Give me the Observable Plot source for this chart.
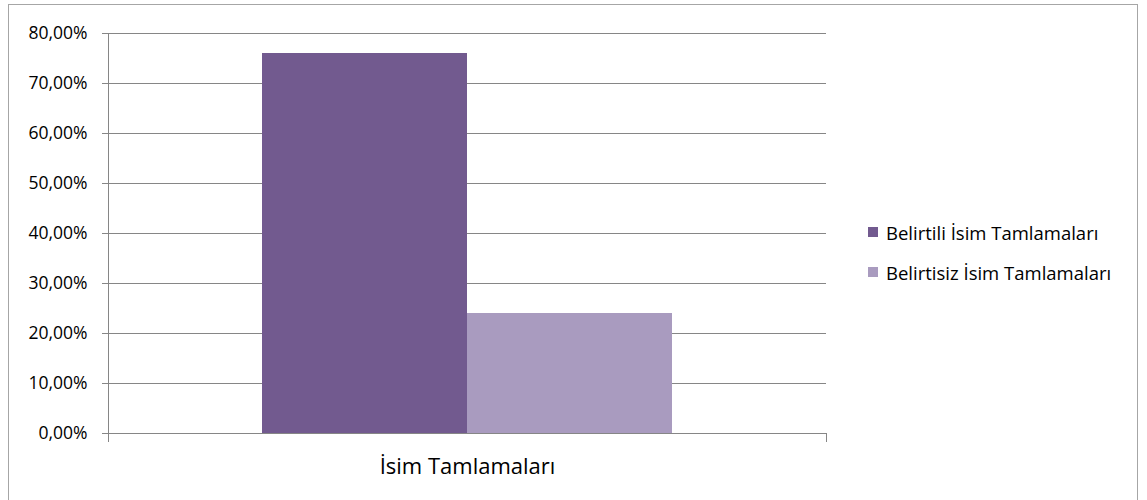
<!DOCTYPE html>
<html><head><meta charset="utf-8">
<script src="https://cdn.jsdelivr.net/npm/d3@7"></script>
<script src="https://cdn.jsdelivr.net/npm/@observablehq/plot@0.6"></script>
<style>
body{margin:0;background:#fff;}
#wrap{position:relative;width:1147px;height:500px;overflow:hidden;font-family:"Open Sans",sans-serif;background:#fff;}
#frame{position:absolute;left:8px;top:4px;width:1130px;height:520px;border:1px solid #a6a6a6;box-sizing:border-box;}
#chart{position:absolute;left:0;top:0;}
#legend{position:absolute;left:868px;top:218px;font-size:18.5px;color:#000;}
.item{display:flex;align-items:center;height:28px;margin-bottom:12px;white-space:nowrap;}
.sw{width:10px;height:10px;margin-right:8px;}
</style>
</head><body>
<div id="wrap"><div id="frame"></div><div id="chart"></div><div id="legend"></div></div>
<script>
const category = ["İsim Tamlamaları"];
const series = ["Belirtili İsim Tamlamaları", "Belirtisiz İsim Tamlamaları"];
const values = [0.76, 0.24];
const colors = ["#725a8f", "#a99bbf"];
const yTicks = [0, 0.1, 0.2, 0.3, 0.4, 0.5, 0.6, 0.7, 0.8];

const data = series.map((s, i) => ({category: category[0], series: s, value: values[i]}));
const fmt = d => d3.format(".2f")(d * 100).replace(".", ",") + "%";

const chart = Plot.plot({
  width: 840,
  height: 500,
  marginLeft: 108,
  marginRight: 14,
  marginTop: 33,
  marginBottom: 67,
  style: {fontFamily: "Open Sans, sans-serif", color: "#000", background: "transparent"},
  fx: {domain: category, padding: 0, label: null},
  x: {domain: series, axis: null, paddingInner: 0, paddingOuter: 0.747},
  y: {domain: [0, 0.8], label: null},
  color: {domain: series, range: colors},
  marks: [
    Plot.gridY(yTicks, {stroke: "#868686", strokeOpacity: 1}),
    Plot.axisY(yTicks, {tickSize: 6, tickPadding: 15, stroke: "#868686", fontSize: 17.5, tickFormat: fmt, label: null}),
    Plot.axisFx({anchor: "bottom", tickSize: 0, tickPadding: 25, fontSize: 22, label: null}),
    Plot.barY(data, {fx: "category", x: "series", y: "value", fill: "series"}),
    Plot.ruleY([0], {stroke: "#868686"}),
    Plot.frame({anchor: "left", stroke: "#868686", insetBottom: -8}),
    Plot.frame({anchor: "right", stroke: "#868686", insetTop: 400, insetBottom: -8})
  ]
});
document.getElementById("chart").appendChild(chart);

const legend = document.getElementById("legend");
series.forEach((s, i) => {
  const it = document.createElement("div");
  it.className = "item";
  const sw = document.createElement("div");
  sw.className = "sw";
  sw.style.background = colors[i];
  const t = document.createElement("span");
  t.textContent = s;
  it.appendChild(sw); it.appendChild(t);
  legend.appendChild(it);
});
</script>
</body></html>
